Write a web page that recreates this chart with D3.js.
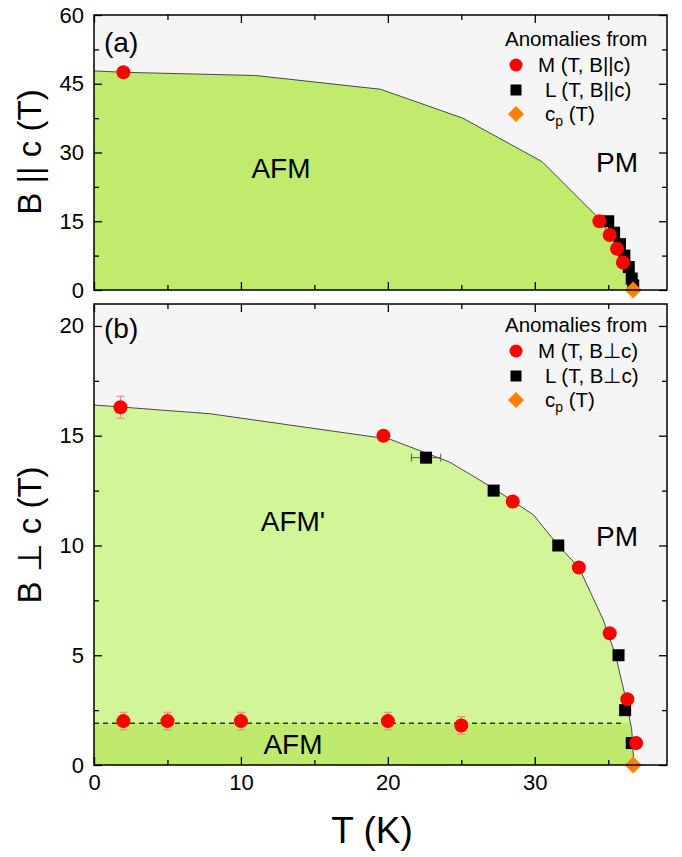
<!DOCTYPE html>
<html>
<head>
<meta charset="utf-8">
<script src="https://cdn.jsdelivr.net/npm/d3@7"></script>
<style>
  html, body { margin: 0; padding: 0; background: #ffffff; }
  svg { display: block; font-family: "Liberation Sans", Arial, sans-serif; }
</style>
</head>
<body>
<svg id="chart" width="682" height="857"></svg>
<script>
// ---- data ----
// panel (a): B || c
const boundaryA_T = [0, 2, 11, 19.5, 25.1, 30.5, 34.4, 35.1, 35.6, 36.0, 36.3, 36.5];
const boundaryA_B = [47.8, 47.5, 46.8, 43.8, 37.5, 28.0, 15.5, 12.2, 9.2, 6.2, 3.0, 0];
const magA_T = [2, 34.4, 35.1, 35.6, 36.0];
const magA_B = [47.5, 15, 12, 9, 6];
const lenA_T = [35.0, 35.4, 35.8, 36.1, 36.4, 36.6, 36.7];
const lenA_B = [15, 12.5, 10, 7.5, 5, 2.5, 1];
const cpA_T = [36.7];
const cpA_B = [0];

// panel (b): B perpendicular to c
const boundaryB_T = [0, 7.9, 20.15, 24.2, 27.2, 29.9, 31.6, 33.0, 34.67, 35.5, 36.2, 36.6, 36.75];
const boundaryB_B = [16.4, 16.0, 14.84, 13.8, 12.6, 11.4, 10.0, 9.0, 6.6, 5.0, 3.0, 1.6, 0];
const spinFlopB = 1.9;
const magB_T = [1.8, 19.7, 28.5, 33.0, 35.1, 36.3, 36.9, 2, 5, 10, 20, 25];
const magB_B = [16.3, 15.0, 12.0, 9.0, 6.0, 3.0, 1.0, 2.0, 2.0, 2.0, 2.0, 1.8];
const magB_err = [0.5, 0.15, 0, 0, 0, 0, 0, 0.4, 0.4, 0.4, 0.4, 0.4];
const lenB_T = [22.6, 27.2, 31.6, 35.7, 36.15, 36.6];
const lenB_B = [14, 12.5, 10, 5, 2.5, 1.0];
const lenB_xerr = [1.0, 0.3, 0.3, 0.2, 0.2, 0.2];
const cpB_T = [36.7];
const cpB_B = [0];

// axis ticks
const xMajor = [0, 10, 20, 30];
const xMinor = [5, 15, 25, 35];
const yMajorA = [0, 15, 30, 45, 60];
const yMinorA = [7.5, 22.5, 37.5, 52.5];
const yMajorB = [0, 5, 10, 15, 20];
const yMinorB = [2.5, 7.5, 12.5, 17.5];

const legendA = ["M (T, B||c)", "L (T, B||c)"];
const legendB = ["M (T, B\u22A5c)", "L (T, B\u22A5c)"];

// ---- layout ----
const svg = d3.select("#chart");
const x = d3.scaleLinear().domain([0, 39]).range([94, 667]);
const yA = d3.scaleLinear().domain([0, 60]).range([290, 15]);
const yB = d3.scaleLinear().domain([0, 21]).range([765, 304]);

const BG = "#f5f5f5";
const GREEN_A = "#c0eb6c";
const GREEN_LIGHT = "#d2f597";
const GREEN_DARK = "#c0ea6e";
const RED = "#ff0000";
const ORANGE = "#ff8000";

function zip(a, b) { return a.map((v, i) => [v, b[i]]); }

// interpolate the boundary temperature at a given field
function boundaryT(Ts, Bs, b) {
  for (let i = 0; i < Ts.length - 1; i++) {
    const b0 = Bs[i], b1 = Bs[i + 1];
    if ((b0 - b) * (b1 - b) <= 0 && b0 !== b1) {
      return Ts[i] + (Ts[i + 1] - Ts[i]) * (b - b0) / (b1 - b0);
    }
  }
  return Ts[Ts.length - 1];
}

function panel(y, opts) {
  const g = svg.append("g");
  const [x0, x1] = x.range();
  const [yb, yt] = y.range();
  g.append("rect").attr("x", x0).attr("y", yt).attr("width", x1 - x0).attr("height", yb - yt).attr("fill", BG);

  const line = d3.line().x(d => x(d[0])).y(d => y(d[1]));
  const pts = zip(opts.bT, opts.bB);
  const area = [[0, 0], ...pts, [0, 0]];
  g.append("path").attr("d", line(area) + "Z").attr("fill", opts.fill);

  if (opts.lowFill) {
    const tEdge = boundaryT(opts.bT, opts.bB, opts.low);
    const low = pts.filter(p => p[1] < opts.low);
    const poly = [[0, 0], [0, opts.low], [tEdge, opts.low], ...low, [0, 0]];
    g.append("path").attr("d", line(poly) + "Z").attr("fill", opts.lowFill);
    g.append("line")
      .attr("x1", x(0)).attr("x2", x(tEdge - 0.6))
      .attr("y1", y(opts.low)).attr("y2", y(opts.low))
      .attr("stroke", "#333").attr("stroke-width", 1.4).attr("stroke-dasharray", "5,4");
  }
  g.append("path").attr("d", line(pts)).attr("fill", "none").attr("stroke", "#4a4a4a").attr("stroke-width", 1);
  return g;
}

function axes(y, major, minor, showX) {
  const g = svg.append("g");
  const [x0, x1] = x.range();
  const [yb, yt] = y.range();
  const bottom = g.append("g").attr("transform", `translate(0,${yb})`);
  bottom.call(d3.axisBottom(x).tickValues(xMajor).tickSizeInner(-8).tickSizeOuter(0).tickPadding(9)
    .tickFormat(showX ? d3.format("d") : () => ""));
  bottom.append("g").call(d3.axisBottom(x).tickValues(xMinor).tickSizeInner(-5).tickSizeOuter(0).tickFormat(() => ""));
  const top = g.append("g").attr("transform", `translate(0,${yt})`);
  top.call(d3.axisTop(x).tickValues(xMajor).tickSizeInner(-8).tickSizeOuter(0).tickFormat(() => ""));
  top.append("g").call(d3.axisTop(x).tickValues(xMinor).tickSizeInner(-5).tickSizeOuter(0).tickFormat(() => ""));
  const left = g.append("g").attr("transform", `translate(${x0},0)`);
  left.call(d3.axisLeft(y).tickValues(major).tickSizeInner(-8).tickSizeOuter(0).tickPadding(10).tickFormat(d3.format("d")));
  left.append("g").call(d3.axisLeft(y).tickValues(minor).tickSizeInner(-5).tickSizeOuter(0).tickFormat(() => ""));
  const right = g.append("g").attr("transform", `translate(${x1},0)`);
  right.call(d3.axisRight(y).tickValues(major).tickSizeInner(-8).tickSizeOuter(0).tickFormat(() => ""));
  right.append("g").call(d3.axisRight(y).tickValues(minor).tickSizeInner(-5).tickSizeOuter(0).tickFormat(() => ""));
  g.selectAll(".domain").remove();
  g.selectAll(".tick line").attr("stroke", "#000").attr("stroke-width", 1.3);
  g.selectAll(".tick text").attr("font-size", 22).attr("fill", "#000")
    .attr("font-family", "'Liberation Sans', Arial, sans-serif");
  g.append("rect").attr("x", x0).attr("y", yt).attr("width", x1 - x0).attr("height", yb - yt)
    .attr("fill", "none").attr("stroke", "#000").attr("stroke-width", 1.5);
}

function circles(g, y, Ts, Bs, r, errs) {
  const d = zip(Ts, Bs).map((p, i) => ({ t: p[0], b: p[1], e: errs ? errs[i] : 0 }));
  const eb = g.append("g").attr("stroke", "#f08a8a").attr("stroke-width", 1.2);
  d.filter(p => p.e > 0).forEach(p => {
    eb.append("line").attr("x1", x(p.t)).attr("x2", x(p.t)).attr("y1", y(p.b - p.e)).attr("y2", y(p.b + p.e));
    [p.b - p.e, p.b + p.e].forEach(v =>
      eb.append("line").attr("x1", x(p.t) - 4).attr("x2", x(p.t) + 4).attr("y1", y(v)).attr("y2", y(v)));
  });
  g.append("g").selectAll("circle").data(d).join("circle")
    .attr("cx", p => x(p.t)).attr("cy", p => y(p.b)).attr("r", r).attr("fill", RED);
}

function squares(g, y, Ts, Bs, s, xerrs) {
  const d = zip(Ts, Bs).map((p, i) => ({ t: p[0], b: p[1], e: xerrs ? xerrs[i] : 0 }));
  const eb = g.append("g").attr("stroke", "#555").attr("stroke-width", 1);
  d.filter(p => p.e > 0).forEach(p => {
    eb.append("line").attr("x1", x(p.t - p.e)).attr("x2", x(p.t + p.e)).attr("y1", y(p.b)).attr("y2", y(p.b));
    [p.t - p.e, p.t + p.e].forEach(v =>
      eb.append("line").attr("x1", x(v)).attr("x2", x(v)).attr("y1", y(p.b) - 4).attr("y2", y(p.b) + 4));
  });
  g.append("g").selectAll("rect").data(d).join("rect")
    .attr("x", p => x(p.t) - s / 2).attr("y", p => y(p.b) - s / 2)
    .attr("width", s).attr("height", s).attr("fill", "#000");
}

function diamonds(g, y, Ts, Bs, r) {
  g.append("g").selectAll("path").data(zip(Ts, Bs)).join("path")
    .attr("transform", p => `translate(${x(p[0])},${y(p[1])})`)
    .attr("d", `M0,${-r}L${r},0L0,${r}L${-r},0Z`).attr("fill", ORANGE);
}

function legend(top, labels) {
  const g = svg.append("g").attr("fill", "#000");
  g.append("text").attr("x", 505).attr("y", top).attr("font-size", 20.5).text("Anomalies from");
  g.append("circle").attr("cx", 516).attr("cy", top + 19).attr("r", 6.5).attr("fill", RED);
  g.append("text").attr("x", 538).attr("y", top + 26).attr("font-size", 20.5).text(labels[0]);
  g.append("rect").attr("x", 510.5).attr("y", top + 38.5).attr("width", 11).attr("height", 11);
  g.append("text").attr("x", 545).attr("y", top + 51).attr("font-size", 20.5).text(labels[1]);
  g.append("path").attr("transform", `translate(516,${top + 68})`).attr("d", "M0,-8L8,0L0,8L-8,0Z").attr("fill", ORANGE);
  const t = g.append("text").attr("x", 545).attr("y", top + 75).attr("font-size", 20.5);
  t.append("tspan").text("c");
  t.append("tspan").attr("font-size", 14).attr("dy", 5).text("p");
  t.append("tspan").attr("dy", -5).text(" (T)");
}

function label(txt, cx, cy, size) {
  svg.append("text").attr("x", cx).attr("y", cy).attr("text-anchor", "middle").attr("font-size", size).attr("fill", "#000").text(txt);
}

// ---- panel (a) ----
const gA = panel(yA, { bT: boundaryA_T, bB: boundaryA_B, fill: GREEN_A });
label("AFM", 281, 178, 28);
label("PM", 617, 172, 28);
svg.append("text").attr("x", 104).attr("y", 52).attr("font-size", 28).text("(a)");
legend(46, legendA);
const mA = svg.append("g");
squares(mA, yA, lenA_T, lenA_B, 12, null);
circles(mA, yA, magA_T, magA_B, 7, null);
diamonds(mA, yA, cpA_T, cpA_B, 8.5);
axes(yA, yMajorA, yMinorA, false);

// ---- panel (b) ----
const gB = panel(yB, { bT: boundaryB_T, bB: boundaryB_B, fill: GREEN_LIGHT, low: spinFlopB, lowFill: GREEN_DARK });
label("AFM'", 293, 531, 28);
label("PM", 617, 546, 28);
label("AFM", 293, 754, 28);
svg.append("text").attr("x", 104).attr("y", 338).attr("font-size", 28).text("(b)");
legend(332, legendB);
const mB = svg.append("g");
squares(mB, yB, lenB_T, lenB_B, 12, lenB_xerr);
circles(mB, yB, magB_T, magB_B, 7, magB_err);
diamonds(mB, yB, cpB_T, cpB_B, 8.5);
axes(yB, yMajorB, yMinorB, true);

// ---- axis titles ----
svg.append("text").attr("transform", "translate(41,152) rotate(-90)").attr("text-anchor", "middle")
  .attr("font-size", 33).text("B || c (T)");
svg.append("text").attr("transform", "translate(41,535) rotate(-90)").attr("text-anchor", "middle")
  .attr("font-size", 33).text("B \u22A5 c (T)");
svg.append("text").attr("x", 372).attr("y", 843).attr("text-anchor", "middle").attr("font-size", 37).text("T (K)");
</script>
</body>
</html>
